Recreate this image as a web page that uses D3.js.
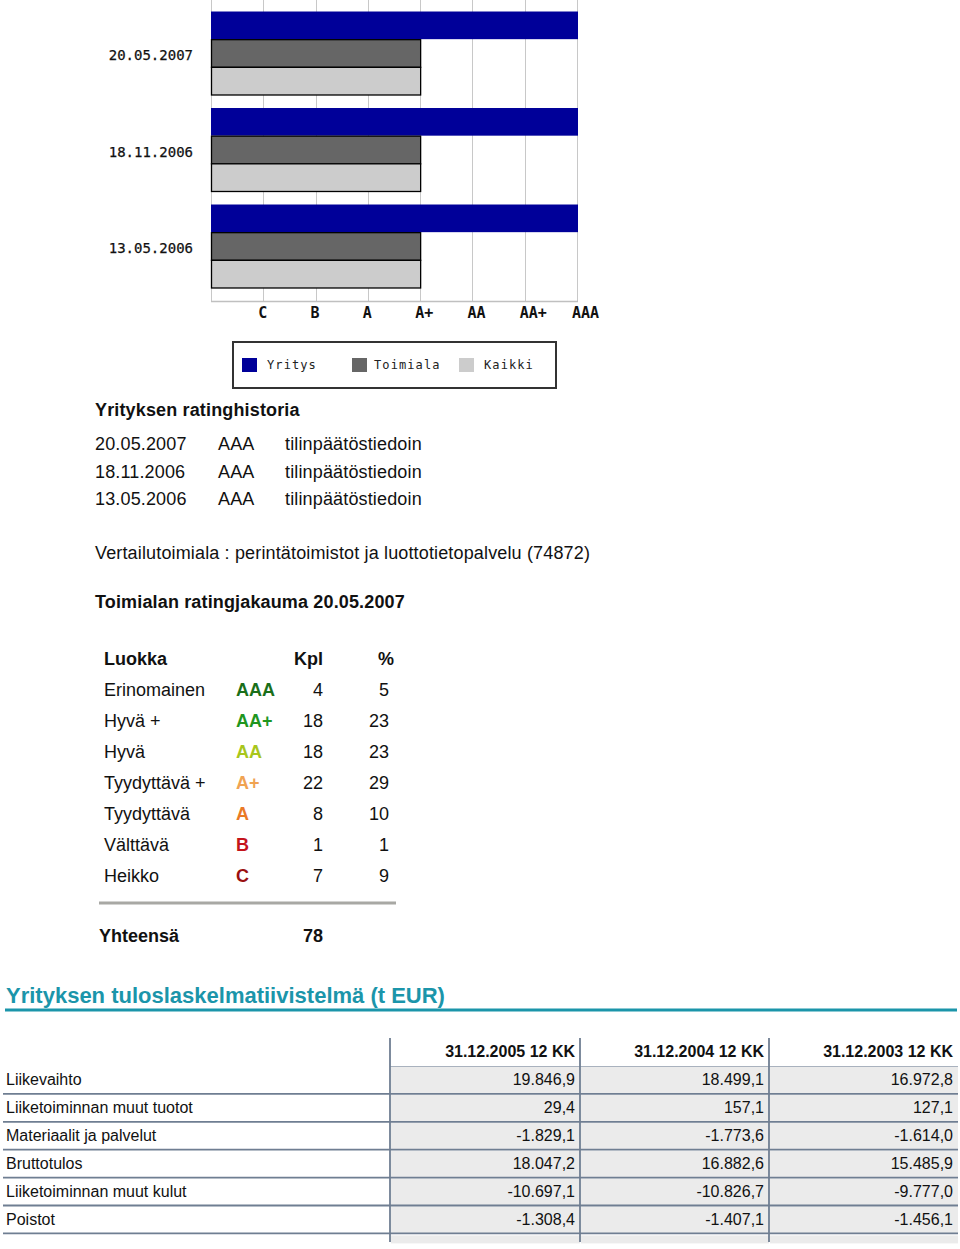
<!DOCTYPE html>
<html>
<head>
<meta charset="utf-8">
<script src="https://cdn.jsdelivr.net/npm/d3@7"></script>
<style>
  html, body { margin: 0; padding: 0; background: #fff; }
  svg { display: block; }
  .sans { font-family: "Liberation Sans", Arial, Helvetica, sans-serif; }
  .mono { font-family: "DejaVu Sans Mono", "Liberation Mono", monospace; }
</style>
</head>
<body>
<svg id="page" width="960" height="1249"></svg>
<script>
// ---------- DATA ----------
const dates = ["20.05.2007", "18.11.2006", "13.05.2006"];
const seriesNames = ["Yritys", "Toimiala", "Kaikki"];
const seriesColors = ["#000099", "#666666", "#cccccc"];
const ratingTicks = ["C", "B", "A", "A+", "AA", "AA+", "AAA"];
const yritysRatings = ["AAA", "AAA", "AAA"];
const toimialaRatings = ["A+", "A+", "A+"];
const kaikkiRatings = ["A+", "A+", "A+"];

const historyDates = ["20.05.2007", "18.11.2006", "13.05.2006"];
const historyRatings = ["AAA", "AAA", "AAA"];
const historySource = ["tilinpäätöstiedoin", "tilinpäätöstiedoin", "tilinpäätöstiedoin"];

const distClasses = ["Erinomainen", "Hyvä +", "Hyvä", "Tyydyttävä +", "Tyydyttävä", "Välttävä", "Heikko"];
const distRatings = ["AAA", "AA+", "AA", "A+", "A", "B", "C"];
const distRatingColors = ["#1a6f1a", "#1f961f", "#a8c61c", "#f0a352", "#ea7a26", "#c4141c", "#9a1010"];
const distCount = [4, 18, 18, 22, 8, 1, 7];
const distPct = [5, 23, 23, 29, 10, 1, 9];
const distTotal = 78;

const finPeriods = ["31.12.2005 12 KK", "31.12.2004 12 KK", "31.12.2003 12 KK"];
const finRows = ["Liikevaihto", "Liiketoiminnan muut tuotot", "Materiaalit ja palvelut", "Bruttotulos", "Liiketoiminnan muut kulut", "Poistot"];
const fin2005 = [19846.9, 29.4, -1829.1, 18047.2, -10697.1, -1308.4];
const fin2004 = [18499.1, 157.1, -1773.6, 16882.6, -10826.7, -1407.1];
const fin2003 = [16972.8, 127.1, -1614.0, 15485.9, -9777.0, -1456.1];

// ---------- CHART ----------
const svg = d3.select("#page");

const x = d3.scaleLinear().domain([0, 7]).range([211, 577]);
const y = d3.scaleBand().domain(dates).range([-2, 301]).paddingInner(0.14).paddingOuter(0.14);
const ys = d3.scaleBand().domain(seriesNames).range([0, y.bandwidth()]);
const ratingValue = r => ratingTicks.indexOf(r) + 1;

const chart = svg.append("g");

// gridlines
chart.append("g")
  .selectAll("line").data(d3.range(0, 8)).join("line")
  .attr("x1", d => Math.round(x(d)) + 0.5).attr("x2", d => Math.round(x(d)) + 0.5)
  .attr("y1", -2).attr("y2", 301)
  .attr("stroke", "#c8c8c8").attr("stroke-width", 1);

// bottom axis line
chart.append("line")
  .attr("x1", x(0)).attr("x2", x(7) + 1).attr("y1", 301.5).attr("y2", 301.5)
  .attr("stroke", "#c0c0c0").attr("stroke-width", 1.5);

const barData = [];
dates.forEach((d, i) => {
  barData.push({ date: d, s: "Yritys", v: ratingValue(yritysRatings[i]), c: seriesColors[0] });
  barData.push({ date: d, s: "Toimiala", v: ratingValue(toimialaRatings[i]), c: seriesColors[1] });
  barData.push({ date: d, s: "Kaikki", v: ratingValue(kaikkiRatings[i]), c: seriesColors[2] });
});

chart.append("g").selectAll("rect").data(barData).join("rect")
  .attr("x", d => x(0) + (d.s === "Yritys" ? 0 : 0.5))
  .attr("y", d => y(d.date) + ys(d.s) + (d.s === "Yritys" ? 0 : 0.5))
  .attr("width", d => x(d.v) - x(0) + (d.s === "Yritys" ? 1 : 0))
  .attr("height", d => ys.bandwidth())
  .attr("fill", d => d.c)
  .attr("stroke", d => d.s === "Yritys" ? "none" : "#000")
  .attr("stroke-width", 1.3);

// y labels (dates)
chart.append("g").selectAll("text").data(dates).join("text")
  .attr("class", "mono")
  .attr("x", 193)
  .attr("y", d => y(d) + y.bandwidth() / 2 + 7)
  .attr("text-anchor", "end")
  .attr("font-size", 14)
  .attr("fill", "#111")
  .attr("stroke", "#111").attr("stroke-width", 0.25)
  .text(d => d);

// x tick labels
chart.append("g").selectAll("text").data(ratingTicks).join("text")
  .attr("class", "mono")
  .attr("x", (d, i) => x(i + 1) - 5)
  .attr("y", 318)
  .attr("font-size", 15)
  .attr("font-weight", "bold")
  .attr("fill", "#111")
  .text(d => d);

// legend
const lg = svg.append("g");
lg.append("rect").attr("x", 233).attr("y", 342).attr("width", 323).attr("height", 46)
  .attr("fill", "#fff").attr("stroke", "#333").attr("stroke-width", 2);
const legendX = [242, 352, 459];
const legendItems = lg.selectAll("g.item").data(seriesNames).join("g").attr("class", "item")
  .attr("transform", (d, i) => `translate(${legendX[i]},358)`);
legendItems.append("rect").attr("width", 15).attr("height", 14)
  .attr("fill", (d, i) => seriesColors[i]);
legendItems.append("text").attr("class", "mono")
  .attr("x", (d, i) => i === 1 ? 22 : 25).attr("y", 11)
  .attr("font-size", 12).attr("letter-spacing", 1.1).attr("fill", "#222")
  .text(d => d);

// ---------- TEXT SECTION ----------
const txt = svg.append("g").attr("class", "sans").attr("fill", "#111").attr("letter-spacing", 0.15);
txt.append("text").attr("x", 95).attr("y", 416).attr("font-size", 18).attr("font-weight", "bold")
  .text("Yrityksen ratinghistoria");
const hist = txt.append("g").selectAll("g").data(historyDates).join("g")
  .attr("transform", (d, i) => `translate(0,${450 + i * 27.5})`);
hist.append("text").attr("x", 95).attr("font-size", 18).text(d => d);
hist.append("text").attr("x", 218).attr("font-size", 18).text((d, i) => historyRatings[i]);
hist.append("text").attr("x", 285).attr("font-size", 18).text((d, i) => historySource[i]);

txt.append("text").attr("x", 95).attr("y", 559).attr("font-size", 18)
  .text("Vertailutoimiala : perintätoimistot ja luottotietopalvelu (74872)");
txt.append("text").attr("x", 95).attr("y", 608).attr("font-size", 18).attr("font-weight", "bold")
  .text("Toimialan ratingjakauma 20.05.2007");

// distribution table
const dt = svg.append("g").attr("class", "sans").attr("font-size", 18).attr("fill", "#111");
dt.append("text").attr("x", 104).attr("y", 665).attr("font-weight", "bold").text("Luokka");
dt.append("text").attr("x", 323).attr("y", 665).attr("font-weight", "bold").attr("text-anchor", "end").text("Kpl");
dt.append("text").attr("x", 394).attr("y", 665).attr("font-weight", "bold").attr("text-anchor", "end").text("%");
const drow = dt.append("g").selectAll("g").data(distClasses).join("g")
  .attr("transform", (d, i) => `translate(0,${696 + i * 31})`);
drow.append("text").attr("x", 104).text(d => d);
drow.append("text").attr("x", 236).attr("font-weight", "bold")
  .attr("fill", (d, i) => distRatingColors[i]).text((d, i) => distRatings[i]);
drow.append("text").attr("x", 323).attr("text-anchor", "end").text((d, i) => distCount[i]);
drow.append("text").attr("x", 389).attr("text-anchor", "end").text((d, i) => distPct[i]);
dt.append("line").attr("x1", 99).attr("x2", 396).attr("y1", 903).attr("y2", 903)
  .attr("stroke", "#a8a8a4").attr("stroke-width", 3);
dt.append("text").attr("x", 99).attr("y", 942).attr("font-weight", "bold").text("Yhteensä");
dt.append("text").attr("x", 323).attr("y", 942).attr("font-weight", "bold").attr("text-anchor", "end").text(distTotal);

// ---------- FINANCIAL TABLE ----------
const fi = svg.append("g").attr("class", "sans");
fi.append("text").attr("x", 6).attr("y", 1003).attr("font-size", 22).attr("font-weight", "bold")
  .attr("fill", "#1b95aa").text("Yrityksen tuloslaskelmatiivistelmä (t EUR)");
fi.append("rect").attr("x", 5).attr("y", 1008.5).attr("width", 952).attr("height", 3).attr("fill", "#1b95aa");

const fmt = d3.formatLocale({ decimal: ",", thousands: ".", grouping: [3], currency: ["", ""], minus: "-" }).format(",.1f");
const colEdges = [390, 580, 769, 958];
const rowTop = 1066, rowH = 27.9;
const finCols = [fin2005, fin2004, fin2003];

// cell backgrounds
finCols.forEach((col, ci) => {
  fi.append("g").selectAll("rect").data(col).join("rect")
    .attr("x", colEdges[ci] + 1).attr("y", (d, i) => rowTop + i * rowH + 1)
    .attr("width", colEdges[ci + 1] - colEdges[ci] - 1).attr("height", rowH - 1)
    .attr("fill", "#ebebeb");
});
// partially visible next row
[0, 1, 2].forEach(ci => {
  fi.append("rect").attr("x", colEdges[ci] + 1).attr("y", rowTop + 6 * rowH + 2)
    .attr("width", colEdges[ci + 1] - colEdges[ci] - 1).attr("height", 8).attr("fill", "#ebebeb");
});
// top line of data area
fi.append("line").attr("x1", 390).attr("x2", 958).attr("y1", rowTop + 0.5).attr("y2", rowTop + 0.5)
  .attr("stroke", "#a9b2be").attr("stroke-width", 1);
// horizontal row lines
fi.append("g").selectAll("line").data(finRows).join("line")
  .attr("x1", 3).attr("x2", 958)
  .attr("y1", (d, i) => rowTop + (i + 1) * rowH).attr("y2", (d, i) => rowTop + (i + 1) * rowH)
  .attr("stroke", "#6f7e92").attr("stroke-width", 1.8);
// vertical column borders
fi.append("g").selectAll("line").data(colEdges.slice(0, 3)).join("line")
  .attr("x1", d => d).attr("x2", d => d).attr("y1", 1038).attr("y2", 1242)
  .attr("stroke", "#6f7e92").attr("stroke-width", 1.8);

// header text
fi.append("g").selectAll("text").data(finPeriods).join("text")
  .attr("x", (d, i) => colEdges[i + 1] - 5).attr("y", 1057)
  .attr("text-anchor", "end").attr("font-size", 16).attr("font-weight", "bold").attr("fill", "#111")
  .text(d => d);
// row labels
fi.append("g").selectAll("text").data(finRows).join("text")
  .attr("x", 6).attr("y", (d, i) => 1085 + i * rowH)
  .attr("font-size", 16).attr("fill", "#111").text(d => d);
// values
finCols.forEach((col, ci) => {
  fi.append("g").selectAll("text").data(col).join("text")
    .attr("x", colEdges[ci + 1] - 5).attr("y", (d, i) => 1085 + i * rowH)
    .attr("text-anchor", "end").attr("font-size", 16).attr("fill", "#111")
    .text(d => fmt(d));
});
</script>
</body>
</html>
